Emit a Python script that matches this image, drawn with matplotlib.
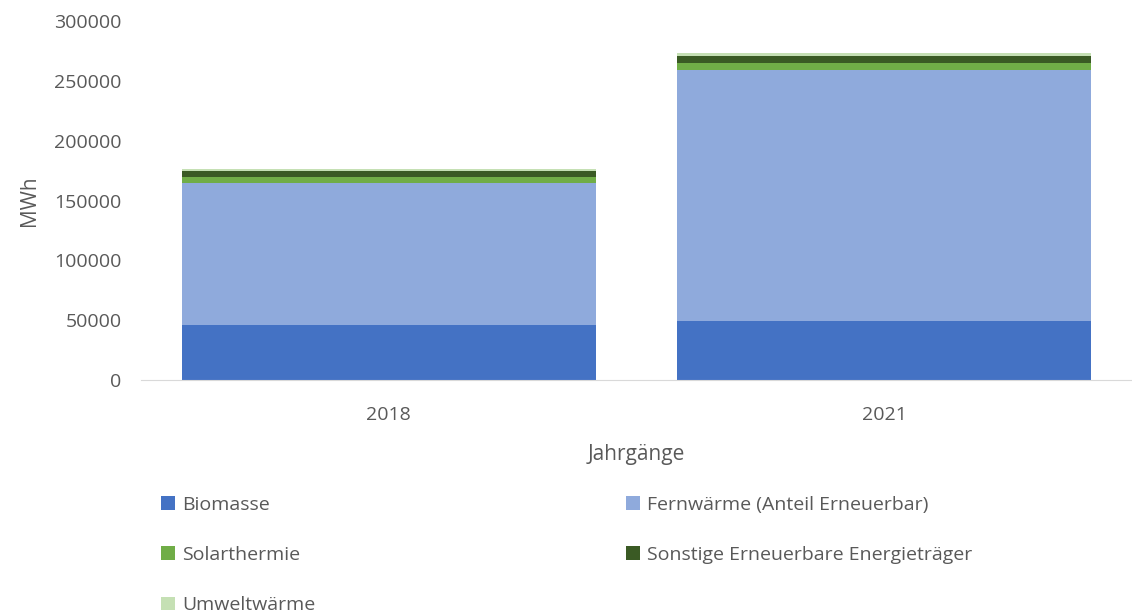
import matplotlib
matplotlib.use("Agg")
import matplotlib.pyplot as plt
from matplotlib.patches import Patch
import numpy as np

plt.rcParams['font.family'] = ['Open Sans', 'DejaVu Sans']

years = ["2018", "2021"]
series_names = ["Biomasse", "Fernwärme (Anteil Erneuerbar)", "Solarthermie",
                "Sonstige Erneuerbare Energieträger", "Umweltwärme"]
biomasse = [46000, 49300]
fernwaerme = [118400, 209800]
solarthermie = [5300, 5850]
sonstige = [5000, 5850]
umweltwaerme = [1400, 2200]
yticks = [0, 50000, 100000, 150000, 200000, 250000, 300000]
colors = ["#4472C4", "#8FAADC", "#70AD47", "#3A5A24", "#C5E0B4"]

values = [biomasse, fernwaerme, solarthermie, sonstige, umweltwaerme]

fig = plt.figure(figsize=(11.32, 6.14), dpi=100)
ax = fig.add_axes([0.1245, 0.3811, 0.8755, 0.5847])

x = np.arange(len(years))
bottom = np.zeros(len(years))
handles = []
for name, vals, c in zip(series_names, values, colors):
    ax.bar(x, vals, width=0.835, bottom=bottom, color=c, label=name)
    bottom += np.array(vals)
    handles.append(Patch(facecolor=c, label=name))

ax.set_xlim(-0.5, 1.5)
ax.set_ylim(0, 300000)
ax.set_yticks(yticks)
ax.set_yticklabels([str(t) for t in yticks])
ax.set_xticks(x)
ax.set_xticklabels(years)

tc = "#595959"
ax.tick_params(axis='both', length=0, colors=tc, labelsize=14)
ax.tick_params(axis='y', pad=14)
ax.tick_params(axis='x', pad=19)
for s in ["top", "right", "left"]:
    ax.spines[s].set_visible(False)
ax.spines["bottom"].set_color("#D9D9D9")
ax.set_xlabel("Jahrgänge", fontsize=15, color=tc, labelpad=14)
ax.set_ylabel("MWh", fontsize=15, color=tc, labelpad=10)

common = dict(frameon=False, fontsize=14, handlelength=0.7, handleheight=0.7,
              handletextpad=0.4, labelspacing=1.65, borderpad=0, borderaxespad=0,
              labelcolor=tc)
leg1 = fig.legend(handles=[handles[0], handles[2], handles[4]], loc='upper left',
                  bbox_to_anchor=(161/1132, 1-496/614), **common)
leg2 = fig.legend(handles=[handles[1], handles[3]], loc='upper left',
                  bbox_to_anchor=(626/1132, 1-496/614), **common)

fig.savefig("out.png", dpi=100)
